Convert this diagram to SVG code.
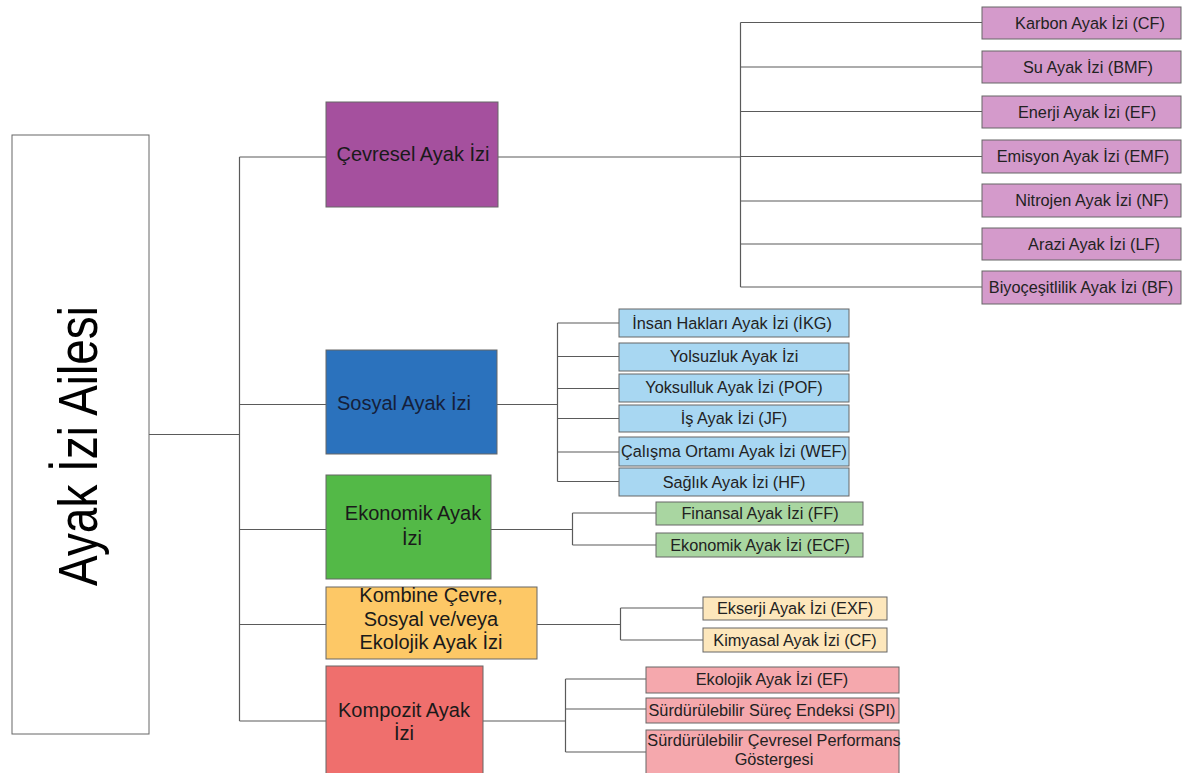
<svg xmlns="http://www.w3.org/2000/svg" width="1185" height="773" viewBox="0 0 1185 773">
<style>
text{font-family:"Liberation Sans",Arial,sans-serif;fill:#1a1a1a;text-anchor:middle}
.cat{font-size:20px}
.leaf{font-size:16.3px;fill:#222}
.b{stroke:#666;stroke-width:1}
.ln{stroke:#5a5a5a;stroke-width:1.2;fill:none}
.p1{fill:#A5509E}.p2{fill:#D49ACB}
.s1{fill:#2B72BD}.s2{fill:#A8D7F2}
.e1{fill:#53B947}.e2{fill:#A9D6A1}
.k1{fill:#FDC866}.k2{fill:#FDE7BC}
.r1{fill:#EF6F6D}.r2{fill:#F5A8AD}
</style>
<rect width="1185" height="773" fill="#ffffff"/>
<g id="connectors" class="ln">
<path d="M149 434.5H239.5M239.5 157V721M239.5 157H326M239.5 404.5H326M239.5 529.5H326M239.5 624.5H326M239.5 721H326"/>
<path d="M498 157H740.5M740.5 22.5V287M740.5 22.5H982M740.5 67H982M740.5 111.5H982M740.5 156.5H982M740.5 201H982M740.5 244H982M740.5 287H982"/>
<path d="M497 404.5H557.5M557.5 323V481.5M557.5 323H619M557.5 356.5H619M557.5 388.5H619M557.5 418.5H619M557.5 452H619M557.5 481.5H619"/>
<path d="M491 529.5H572.5M572.5 513V545M572.5 513H656M572.5 545H656"/>
<path d="M537 624.5H620.5M620.5 608V640M620.5 608H703M620.5 640H703"/>
<path d="M483 721H565.5M565.5 679V752M565.5 679H646M565.5 709H646M565.5 752H646"/>
</g>
<g id="root">
<rect x="12" y="135" width="137" height="599" fill="#fff" class="b"/>
<text transform="translate(97,446) rotate(-90) scale(0.82,1)" style="font-size:56px;fill:#000">Ayak İzi Ailesi</text>
</g>
<g id="cevresel">
<rect x="326" y="102" width="172" height="105" class="p1 b"/>
<text class="cat" x="413" y="161">Çevresel Ayak İzi</text>
</g>
<g id="sosyal">
<rect x="326" y="350" width="171" height="104" class="s1 b"/>
<text class="cat" x="404" y="410" style="fill:#15203a">Sosyal Ayak İzi</text>
</g>
<g id="ekonomik">
<rect x="326" y="475" width="165" height="104" class="e1 b"/>
<text class="cat" x="413" y="520">Ekonomik Ayak</text>
<text class="cat" x="412" y="545">İzi</text>
</g>
<g id="kombine">
<rect x="326" y="587" width="211" height="72" class="k1 b"/>
<text class="cat" x="431" y="602">Kombine Çevre,</text>
<text class="cat" x="431" y="626">Sosyal ve/veya</text>
<text class="cat" x="431" y="649">Ekolojik Ayak İzi</text>
</g>
<g id="kompozit">
<rect x="326" y="666" width="157" height="112" class="r1 b"/>
<text class="cat" x="404" y="717">Kompozit Ayak</text>
<text class="cat" x="404" y="740">İzi</text>
</g>
<g id="cf-karbon"><rect x="982" y="7" width="199" height="32" class="p2 b"/><text class="leaf" x="1090" y="29">Karbon Ayak İzi (CF)</text></g>
<g id="cf-su"><rect x="982" y="51" width="199" height="32" class="p2 b"/><text class="leaf" x="1088" y="73">Su Ayak İzi (BMF)</text></g>
<g id="cf-enerji"><rect x="982" y="96" width="199" height="32" class="p2 b"/><text class="leaf" x="1087" y="118">Enerji Ayak İzi (EF)</text></g>
<g id="cf-emisyon"><rect x="982" y="140" width="199" height="33" class="p2 b"/><text class="leaf" x="1083" y="162">Emisyon Ayak İzi (EMF)</text></g>
<g id="cf-nitrojen"><rect x="982" y="184" width="199" height="33" class="p2 b"/><text class="leaf" x="1092" y="206">Nitrojen Ayak İzi (NF)</text></g>
<g id="cf-arazi"><rect x="982" y="228" width="199" height="32" class="p2 b"/><text class="leaf" x="1094" y="250">Arazi Ayak İzi (LF)</text></g>
<g id="cf-biyo"><rect x="982" y="271" width="199" height="33" class="p2 b"/><text class="leaf" x="1081" y="293">Biyoçeşitlilik Ayak İzi (BF)</text></g>
<g id="s-insan"><rect x="619" y="309" width="230" height="28" class="s2 b"/><text class="leaf" x="732" y="329">İnsan Hakları Ayak İzi (İKG)</text></g>
<g id="s-yolsuzluk"><rect x="619" y="343" width="230" height="28" class="s2 b"/><text class="leaf" x="734" y="362">Yolsuzluk Ayak İzi</text></g>
<g id="s-yoksulluk"><rect x="619" y="374" width="230" height="28" class="s2 b"/><text class="leaf" x="734" y="393">Yoksulluk Ayak İzi (POF)</text></g>
<g id="s-is"><rect x="619" y="405" width="230" height="27" class="s2 b"/><text class="leaf" x="734" y="424">İş Ayak İzi (JF)</text></g>
<g id="s-calisma"><rect x="619" y="437" width="230" height="29" class="s2 b"/><text class="leaf" x="734" y="457">Çalışma Ortamı Ayak İzi (WEF)</text></g>
<g id="s-saglik"><rect x="619" y="468" width="230" height="28" class="s2 b"/><text class="leaf" x="734" y="488">Sağlık Ayak İzi (HF)</text></g>
<g id="e-finansal"><rect x="656" y="502" width="207" height="23" class="e2 b"/><text class="leaf" x="760" y="519">Finansal Ayak İzi (FF)</text></g>
<g id="e-ekonomik"><rect x="656" y="533" width="207" height="24" class="e2 b"/><text class="leaf" x="760" y="551">Ekonomik Ayak İzi (ECF)</text></g>
<g id="k-ekserji"><rect x="703" y="597" width="184" height="23" class="k2 b"/><text class="leaf" x="795" y="614">Ekserji Ayak İzi (EXF)</text></g>
<g id="k-kimyasal"><rect x="703" y="628" width="184" height="24" class="k2 b"/><text class="leaf" x="795" y="646">Kimyasal Ayak İzi (CF)</text></g>
<g id="r-ekolojik"><rect x="646" y="667" width="253" height="26" class="r2 b"/><text class="leaf" x="772" y="685">Ekolojik Ayak İzi (EF)</text></g>
<g id="r-spi"><rect x="646" y="698" width="253" height="25" class="r2 b"/><text class="leaf" x="772" y="716">Sürdürülebilir Süreç Endeksi (SPI)</text></g>
<g id="r-scpg"><rect x="646" y="730" width="253" height="48" class="r2 b"/><text class="leaf" x="774" y="746">Sürdürülebilir Çevresel Performans</text><text class="leaf" x="774" y="765">Göstergesi</text></g>
</svg>
